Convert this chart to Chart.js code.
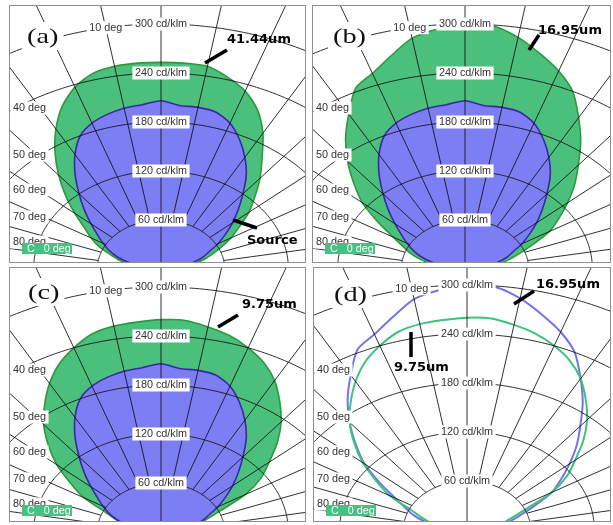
<!DOCTYPE html>
<html>
<head>
<meta charset="utf-8">
<title>Luminous intensity distribution</title>
<script src="https://cdn.jsdelivr.net/npm/chart.js@4.4.1/dist/chart.umd.min.js"></script>
<style>
  html, body { margin: 0; padding: 0; background: #ffffff; }
  body { width: 613px; height: 525px; position: relative; overflow: hidden; }
  .panel { position: absolute; border: 1px solid #8e8e8e; background: #fff; }
  .panel canvas { display: block; }
</style>
</head>
<body>
<div class="panel" style="left:9px;top:5px;"><canvas id="panelA" width="295" height="256" style="width:295px;height:256px"></canvas></div>
<div class="panel" style="left:312px;top:5px;"><canvas id="panelB" width="297" height="256" style="width:297px;height:256px"></canvas></div>
<div class="panel" style="left:9px;top:267px;"><canvas id="panelC" width="295" height="253" style="width:295px;height:253px"></canvas></div>
<div class="panel" style="left:313px;top:267px;"><canvas id="panelD" width="296" height="253" style="width:296px;height:253px"></canvas></div>
<script>
// Polar angle of every sample, degrees from the vertical axis (negative = left half)
const angles = [-90,-85,-80,-75,-70,-65,-60,-55,-50,-45,-40,-35,-30,-25,-20,-15,-10,-5,0,
                5,10,15,20,25,30,35,40,45,50,55,60,65,70,75,80,85,90];

// Luminous intensity (cd/klm) at each angle
const sourceCdKlm = [0,10,20,32,44,54,63,73,86,102,120,141,162,180,190,196,200,202,206,
                     201,201,199,190,175,158,140,120,103,88,74,62,50,42,32,20,10,0];
const film41um    = [0,14,28,40,50,64,76,88,106,127,150,174,198,220,237,248,252,253,253,
                     253,252,243,232,215,192,166,145,125,108,90,76,62,50,40,28,14,0];
const film17um    = [0,14,28,42,54,64,78,100,126,148,172,196,219,244,255,270,287,295,300,
                     299,288,273,258,240,214,190,166,146,126,108,92,70,54,42,28,14,0];
const film10um    = [0,12,24,36,46,58,84,104,128,150,172,191,210,227,240,251,256,258,260,
                     260,255,249,240,229,214,195,176,155,133,115,92,62,46,36,24,12,0];

// Polar grid: intensity rings, spokes and their labels
const ringValues = [60, 120, 180, 240, 300];
const ringLabels = ['60 cd/klm', '120 cd/klm', '180 cd/klm', '240 cd/klm', '300 cd/klm'];
const spokeAngles = [-90,-80,-70,-60,-50,-40,-30,-20,-10,0,10,20,30,40,50,60,70,80,90];
const sideAngleLabels = ['40 deg', '50 deg', '60 deg', '70 deg', '80 deg'];
const topAngleLabel = '10 deg';
const planeLabel = 'C   0 deg';

// Styling and layout
const PX_PER_CD = 245 / 300;      // vertical pixels per cd/klm
const X_STRETCH = 1.3;            // horizontal aspect of the polar view
const GREEN_FILL = '#4bbf7c', GREEN_EDGE = '#2a9a3c';
const PURPLE_FILL = '#7d7df4', PURPLE_EDGE = '#3b28a6';
const BLUE_LINE = '#7373ec', GREEN_LINE = '#3ec27d';
const TAG_GREEN = '#45c283';
const GRID = 'rgba(20,20,20,0.88)';
const LABEL_FONT = '10px "Liberation Sans", Arial, sans-serif';
const LABEL_SX = 1.08;
const LETTER_FONT = '21px "Liberation Serif", "Times New Roman", serif';
const LETTER_SX = 1.35;
const NOTE_FONT = 'bold 13px "DejaVu Sans", Verdana, sans-serif';
const SIDE_LABEL_Y = [102, 149, 184, 211, 236];

function toXY(values) {
  return angles.map((a, i) => {
    const t = a * Math.PI / 180;
    return { x: values[i] * Math.sin(t), y: values[i] * Math.cos(t) };
  });
}

function drawText(ctx, text, x, y, font, color, sx) {
  ctx.save();
  ctx.font = font;
  ctx.fillStyle = color;
  ctx.textBaseline = 'middle';
  ctx.textAlign = 'left';
  ctx.translate(x, y);
  ctx.scale(sx, 1);
  ctx.fillText(text, 0, 0);
  ctx.restore();
}

function textWidth(ctx, text, font, sx) {
  ctx.save();
  ctx.font = font;
  const w = ctx.measureText(text).width * sx;
  ctx.restore();
  return w;
}

function boxedLabel(ctx, text, x, y, align) {
  const w = textWidth(ctx, text, LABEL_FONT, LABEL_SX);
  const left = align === 'center' ? x - w / 2 : x;
  ctx.fillStyle = '#ffffff';
  ctx.fillRect(left - 2.5, y - 6.5, w + 5, 13);
  drawText(ctx, text, left, y + 0.5, LABEL_FONT, '#333333', LABEL_SX);
}

function makeDecor(layout) {
  return {
    id: 'polarDecor',
    afterDatasetsDraw(chart) {
      const { ctx, chartArea: area, scales: { x, y } } = chart;
      const at = (r, deg) => {
        const t = deg * Math.PI / 180;
        return [x.getPixelForValue(r * Math.sin(t)), y.getPixelForValue(r * Math.cos(t))];
      };
      ctx.save();
      ctx.beginPath();
      ctx.rect(area.left, area.top, area.right - area.left, area.bottom - area.top);
      ctx.clip();

      // rings
      ctx.strokeStyle = GRID;
      ctx.lineWidth = 1;
      ringValues.forEach(v => {
        ctx.beginPath();
        for (let d = -90; d <= 90; d++) {
          const [px, py] = at(v, d);
          if (d === -90) ctx.moveTo(px, py); else ctx.lineTo(px, py);
        }
        ctx.stroke();
      });
      // spokes start on the innermost ring, the vertical one from the origin
      spokeAngles.forEach(a => {
        const [x0, y0] = at(a === 0 ? 0 : ringValues[0], a);
        const [x1, y1] = at(1000, a);
        ctx.beginPath();
        ctx.moveTo(x0, y0);
        ctx.lineTo(x1, y1);
        ctx.stroke();
      });

      // ring and angle labels
      ringValues.forEach((v, i) => {
        const [px, py] = at(v, 0);
        boxedLabel(ctx, ringLabels[i], px, py, 'center');
      });
      {
        const [px, py] = at(ringValues[ringValues.length - 1], -10);
        boxedLabel(ctx, topAngleLabel, px, py, 'center');
      }
      sideAngleLabels.forEach((s, i) => boxedLabel(ctx, s, area.left + 3, area.top + SIDE_LABEL_Y[i], 'left'));

      // C-plane tag
      ctx.fillStyle = TAG_GREEN;
      ctx.fillRect(area.left + 12, area.top + 237, 50, 11);
      drawText(ctx, planeLabel, area.left + 17, area.top + 243, LABEL_FONT, '#ffffff', LABEL_SX);

      // panel letter
      const lw = textWidth(ctx, layout.letter, LETTER_FONT, LETTER_SX);
      ctx.fillStyle = '#ffffff';
      ctx.fillRect(area.left + layout.letterX - 5, area.top + layout.letterY - 14, lw + 10, 28);
      drawText(ctx, layout.letter, area.left + layout.letterX, area.top + layout.letterY + 1, LETTER_FONT, '#111111', LETTER_SX);

      // thickness annotations with pointers
      layout.notes.forEach(n => {
        ctx.strokeStyle = '#000000';
        ctx.lineWidth = 3.5;
        ctx.beginPath();
        ctx.moveTo(area.left + n.from[0], area.top + n.from[1]);
        ctx.lineTo(area.left + n.to[0], area.top + n.to[1]);
        ctx.stroke();
        drawText(ctx, n.text, area.left + n.x, area.top + n.y, NOTE_FONT, '#000000', 1);
      });
      ctx.restore();
    }
  };
}

function filled(values, fill, edge, order) {
  return { data: toXY(values), showLine: true, fill: 'shape', backgroundColor: fill,
           borderColor: edge, borderWidth: 1.6, order: order, tension: 0.25, pointRadius: 0 };
}
function outline(values, color, order) {
  return { data: toXY(values), showLine: true, fill: false, borderColor: color,
           borderWidth: 2, order: order, tension: 0.25, pointRadius: 0 };
}

function makePanel(id, layout, datasets) {
  const canvas = document.getElementById(id);
  const W = canvas.width, H = canvas.height;
  const pxX = PX_PER_CD * X_STRETCH;
  new Chart(canvas, {
    type: 'scatter',
    data: { datasets: datasets },
    options: {
      responsive: false,
      animation: false,
      events: [],
      layout: { padding: 0 },
      plugins: { legend: { display: false }, tooltip: { enabled: false } },
      scales: {
        x: { type: 'linear', display: false, min: -layout.ox / pxX, max: (W - layout.ox) / pxX },
        y: { type: 'linear', display: false, min: (layout.oy - H) / PX_PER_CD, max: layout.oy / PX_PER_CD }
      }
    },
    plugins: [makeDecor(layout)]
  });
}

makePanel('panelA', {
  ox: 151, oy: 263, letter: '(a)', letterX: 17, letterY: 30,
  notes: [
    { text: '41.44um', x: 217, y: 34, from: [195, 57], to: [217, 44] },
    { text: 'Source', x: 237, y: 235, from: [223, 214], to: [247, 222] }
  ]
}, [filled(film41um, GREEN_FILL, GREEN_EDGE, 2), filled(sourceCdKlm, PURPLE_FILL, PURPLE_EDGE, 1)]);

makePanel('panelB', {
  ox: 152, oy: 263, letter: '(b)', letterX: 20, letterY: 30,
  notes: [ { text: '16.95um', x: 225, y: 25, from: [216, 44], to: [226, 29] } ]
}, [filled(film17um, GREEN_FILL, GREEN_EDGE, 2), filled(sourceCdKlm, PURPLE_FILL, PURPLE_EDGE, 1)]);

makePanel('panelC', {
  ox: 151, oy: 264, letter: '(c)', letterX: 18, letterY: 24,
  notes: [ { text: '9.75um', x: 232, y: 37, from: [208, 59], to: [228, 47] } ]
}, [filled(film10um, GREEN_FILL, GREEN_EDGE, 2), filled(sourceCdKlm, PURPLE_FILL, PURPLE_EDGE, 1)]);

makePanel('panelD', {
  ox: 153, oy: 262, letter: '(d)', letterX: 20, letterY: 26,
  notes: [
    { text: '16.95um', x: 222, y: 17, from: [200, 36], to: [220, 23] },
    { text: '9.75um', x: 80, y: 100, from: [97, 64], to: [97, 89] }
  ]
}, [outline(film17um, BLUE_LINE, 2), outline(film10um, GREEN_LINE, 1)]);
</script>
</body>
</html>
